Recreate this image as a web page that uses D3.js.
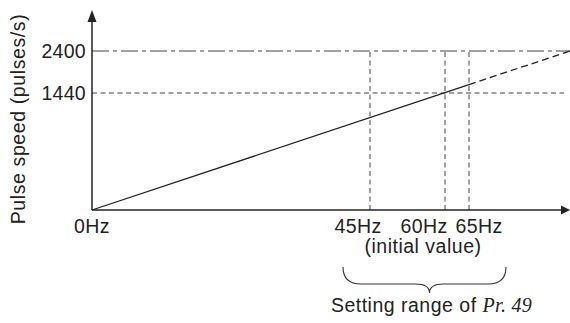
<!DOCTYPE html>
<html>
<head>
<meta charset="utf-8">
<script src="https://cdn.jsdelivr.net/npm/d3@7"></script>
<style>
  body { margin: 0; background: #fff; }
  svg { display: block; }
  text { font-family: "Liberation Sans", Arial, Helvetica, sans-serif; fill: #222; }
</style>
</head>
<body>
<svg width="570" height="323"></svg>
<script>
// frequency ticks on the x axis (Hz) and their labels
const freqTicks = [0, 45, 60, 65];
const freqLabels = ['0Hz', '45Hz', '60Hz', '65Hz'];
const freqMax = 100;

// pulse speed levels (pulses/s)
const pulseLevels = [1440, 2400];
const pulseLabels = ['1440', '2400'];

// the pulse-speed line: 0Hz -> 0, full scale -> 2400
const speedLine = [[0, 0], [freqMax, 2400]];
const solidUntil = 65; // solid part ends at the top of the setting range
const initialValue = 60;

const svg = d3.select('svg');

// schematic (not to scale), so the scales are piecewise
const x = d3.scaleLinear()
  .domain([0, 45, 60, 65, freqMax])
  .range([92, 370, 445, 469, 570]);

const y = d3.scaleLinear()
  .domain([0, 1440, 2400])
  .range([210, 93, 51]);

const ink = '#222';
const fs = 19.5;

// reference lines for the pulse levels
const levelDash = { 1440: '5,3.5', 2400: '17,4,4,4' };
svg.append('g')
  .selectAll('line')
  .data(pulseLevels)
  .enter()
  .append('line')
  .attr('x1', x(0))
  .attr('x2', (d) => (d === 2400 ? x(freqMax) : x(freqMax) - 6))
  .attr('y1', (d) => y(d))
  .attr('y2', (d) => y(d))
  .attr('stroke', '#444')
  .attr('stroke-width', 1.1)
  .attr('stroke-dasharray', (d) => levelDash[d]);

// vertical dashed lines at the frequency ticks
svg.append('g')
  .selectAll('line')
  .data(freqTicks.filter((f) => f > 0))
  .enter()
  .append('line')
  .attr('x1', (d) => x(d))
  .attr('x2', (d) => x(d))
  .attr('y1', y(0))
  .attr('y2', y(2400))
  .attr('stroke', '#555')
  .attr('stroke-width', 1.1)
  .attr('stroke-dasharray', '5,3.5');

// pulse speed line: straight in the drawing, split at 65Hz
const p0 = [x(speedLine[0][0]), y(speedLine[0][1])];
const p1 = [x(speedLine[1][0]), y(speedLine[1][1])];
const t = (x(solidUntil) - p0[0]) / (p1[0] - p0[0]);
const pm = d3.interpolate(p0, p1)(t);

svg.append('line')
  .attr('x1', p0[0]).attr('y1', p0[1])
  .attr('x2', pm[0]).attr('y2', pm[1])
  .attr('stroke', ink)
  .attr('stroke-width', 1.3);

svg.append('line')
  .attr('x1', pm[0]).attr('y1', pm[1])
  .attr('x2', p1[0]).attr('y2', p1[1])
  .attr('stroke', ink)
  .attr('stroke-width', 1.3)
  .attr('stroke-dasharray', '7,4');

// axes with arrow heads
svg.append('line')
  .attr('x1', x(0)).attr('y1', y(0))
  .attr('x2', x(0)).attr('y2', 20)
  .attr('stroke', ink)
  .attr('stroke-width', 1.5);
svg.append('path')
  .attr('d', `M${x(0)},10 L${x(0) - 4.5},22 L${x(0) + 4.5},22 Z`)
  .attr('fill', ink);

svg.append('line')
  .attr('x1', x(0)).attr('y1', y(0))
  .attr('x2', 563).attr('y2', y(0))
  .attr('stroke', ink)
  .attr('stroke-width', 1.5);
svg.append('path')
  .attr('d', `M570,${y(0)} L561,${y(0) - 4.5} L561,${y(0) + 4.5} Z`)
  .attr('fill', ink);

// y labels
svg.append('g')
  .selectAll('text')
  .data(pulseLevels)
  .enter()
  .append('text')
  .attr('x', x(0) - 6)
  .attr('y', (d) => y(d) + 7)
  .attr('text-anchor', 'end')
  .attr('font-size', fs)
  .attr('letter-spacing', 0.3)
  .text((d, i) => pulseLabels[i]);

// x labels (nudged apart as in the drawing)
const labelNudge = [0, -12, -21, 10];
svg.append('g')
  .selectAll('text')
  .data(freqTicks)
  .enter()
  .append('text')
  .attr('x', (d, i) => x(d) + labelNudge[i])
  .attr('y', y(0) + 23)
  .attr('text-anchor', 'middle')
  .attr('font-size', fs)
  .attr('letter-spacing', 0.4)
  .text((d, i) => freqLabels[i]);

svg.append('text')
  .attr('x', x(initialValue) - 22)
  .attr('y', y(0) + 43)
  .attr('text-anchor', 'middle')
  .attr('font-size', fs)
  .attr('letter-spacing', 0.5)
  .text('(initial value)');

// y axis title
svg.append('text')
  .attr('transform', `translate(25,${119}) rotate(-90)`)
  .attr('text-anchor', 'middle')
  .attr('font-size', fs)
  .attr('letter-spacing', 0.6)
  .text('Pulse speed (pulses/s)');

// brace under the setting range
const bl = x(45) - 27;
const br = x(65) + 37;
const bm = (bl + br) / 2 + 5;
const bTop = 267;
const bFlat = 284;
const bTip = 293;
svg.append('path')
  .attr('d', `M${bl},${bTop} Q${bl},${bFlat} ${bl + 18},${bFlat}`
    + ` L${bm - 14},${bFlat} Q${bm},${bFlat} ${bm},${bTip}`
    + ` Q${bm},${bFlat} ${bm + 14},${bFlat}`
    + ` L${br - 18},${bFlat} Q${br},${bFlat} ${br},${bTop}`)
  .attr('fill', 'none')
  .attr('stroke', '#333')
  .attr('stroke-width', 1.1);

const caption = svg.append('text')
  .attr('x', bm + 2)
  .attr('y', 312)
  .attr('text-anchor', 'middle')
  .attr('font-size', fs)
  .attr('letter-spacing', 0.5);
caption.append('tspan').text('Setting range of ');
caption.append('tspan')
  .attr('font-family', '"Liberation Serif", "Times New Roman", serif')
  .attr('font-style', 'italic')
  .attr('letter-spacing', 0.3)
  .attr('font-size', 20)
  .text('Pr. 49');
</script>
</body>
</html>
